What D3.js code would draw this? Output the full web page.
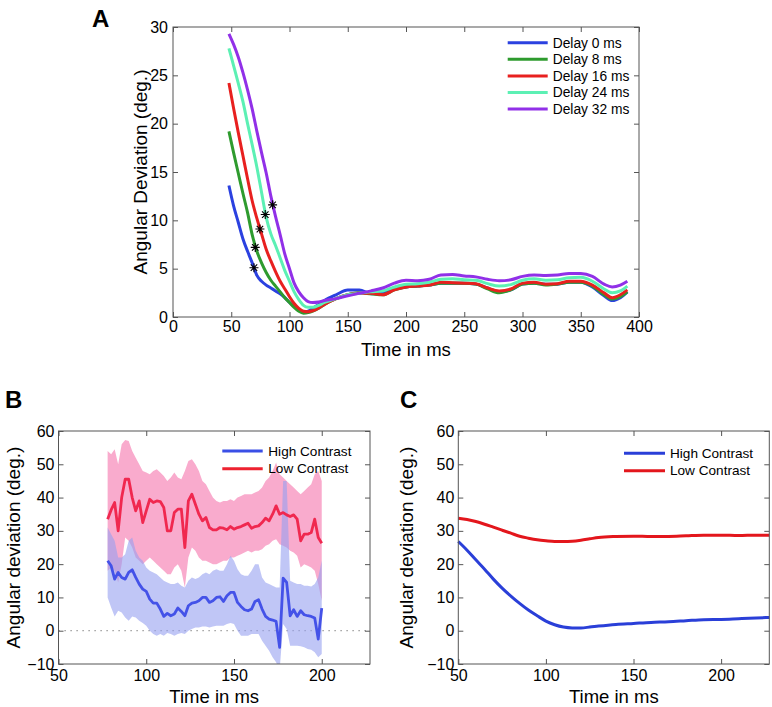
<!DOCTYPE html>
<html><head><meta charset="utf-8">
<script src="https://cdn.jsdelivr.net/npm/d3@7"></script>
<style>
body{margin:0;background:#fff}
svg{display:block}
text{font-family:"Liberation Sans",Arial,Helvetica,sans-serif;fill:#000}
</style>
</head><body>
<svg id="chart" width="772" height="707"></svg>
<script>
// ---------- Panel A data ----------
const timeA = [48,52,56,60,64,68,72,76,80,84,88,92,96,100,104,108,112,116,120,125,130,140,150,160,170,180,190,200,210,220,230,240,250,260,270,280,290,300,310,320,330,340,350,360,370,377,384,390];
const delay0  = [13.6,11.5,9.8,8.1,6.8,5.6,4.3,3.7,3.3,3.0,2.7,2.4,2.0,1.5,1.1,0.7,0.5,0.6,0.9,1.3,1.7,2.3,2.8,2.8,2.4,2.5,2.9,3.1,3.2,3.3,3.5,3.5,3.5,3.4,3.0,2.6,2.8,3.4,3.5,3.4,3.4,3.6,3.6,3.1,2.2,1.7,2.0,2.6];
const delay8  = [19.2,17.0,14.9,12.8,10.8,8.5,6.8,5.6,4.6,3.8,3.2,2.6,2.0,1.5,1.0,0.6,0.4,0.45,0.6,0.9,1.3,1.9,2.3,2.5,2.4,2.3,2.8,3.1,3.2,3.3,3.5,3.5,3.5,3.4,2.9,2.5,2.8,3.4,3.5,3.3,3.4,3.6,3.6,3.2,2.3,1.85,2.1,2.6];
const delay16 = [24.2,21.6,19.1,16.7,14.3,12.0,10.2,8.6,7.0,5.8,4.7,3.7,2.9,2.1,1.4,0.9,0.6,0.55,0.65,0.9,1.3,1.9,2.3,2.45,2.45,2.3,2.8,3.1,3.2,3.3,3.6,3.55,3.5,3.45,3.0,2.7,2.9,3.5,3.6,3.4,3.45,3.7,3.7,3.3,2.5,2.0,2.3,2.8];
const delay24 = [27.8,26.0,24.2,22.3,20.0,17.8,15.5,12.9,10.3,8.6,7.4,6.1,4.8,3.7,2.6,1.8,1.2,1.0,1.0,1.2,1.5,1.9,2.3,2.45,2.6,2.7,3.1,3.4,3.45,3.6,3.9,3.95,3.85,3.8,3.45,3.2,3.35,3.8,3.95,3.8,3.85,4.05,4.1,3.7,2.9,2.5,2.7,3.2];
const delay32 = [29.3,28.2,26.9,25.3,23.5,21.5,19.2,17.0,14.9,12.5,10.4,8.5,6.5,5.0,3.5,2.6,2.0,1.6,1.5,1.55,1.7,1.9,2.2,2.45,2.7,3.0,3.5,3.8,3.75,3.9,4.35,4.4,4.25,4.15,3.9,3.75,3.85,4.2,4.35,4.3,4.35,4.5,4.5,4.2,3.4,3.1,3.3,3.7];
const delayLabels = ["Delay 0 ms","Delay 8 ms","Delay 16 ms","Delay 24 ms","Delay 32 ms"];
const delayColors = ["#2b41e0","#2e9b2e","#e8201f","#5cf0b4","#9130e8"];
const starTimes  = [69.5,70.6,74.6,79.2,85.5];
const starValues = [5.1,7.2,9.1,10.6,11.6];
const aXTicks = [0,50,100,150,200,250,300,350,400];
const aYTicks = [0,5,10,15,20,25,30];

// ---------- Panel B data ----------
const timeB = [78,80,82,84,86,88,90,92,94,96,
               98,100,102,104,106,108,110,112,114,116,
               118,120,122,124,126,128,130,132,134,136,
               138,140,142,144,146,148,150,152,154,156,
               158,160,162,164,166,168,170,172,174,176,
               178,180,182,184,186,188,190,192,194,196,
               198,200];
const lowMean = [33.5,36.3,38.5,30,40,45.5,45.5,40,36,39,
                 32.5,36,39.5,38.5,39,38.8,37,30,30,35.5,
                 36.5,36.5,25,39,41,38,35,33,34,31,
                 30.3,30.3,31,30.8,30.3,31.3,30.5,31,31.3,31.8,
                 32.3,30.8,31.3,31.5,32.5,33.8,33,35,37.5,35,
                 35.5,34.8,34.3,34.8,33.5,27,29,29,29.5,33.5,
                 28,26.3];
const lowUpper = [54,53,54.5,50,56,57.3,57,54,52,50,
                  48,47.5,47,48,48.5,47.5,46.5,45,46,47.5,
                  46,45.5,48,51,51.5,50,48,45,44,42,
                  40,39,38.5,39,39,39.5,39,40,40.5,41,
                  41,41,41.5,42,43,45,46,48,50.5,47,
                  46,45,44,43,42,41,42,43,44,47,
                  48,45];
const lowLower = [18,19,18,14.5,20,28,27,25,22,21,
                  20,21,22,21,20,19,18,17,17,19,
                  20,18,13,22,25,24,22,21,21,20.5,
                  20,20,20.5,21,21,22,22,22.5,23,23.5,
                  24,23.5,24,24,24.5,25.5,26,27,27.5,26,
                  25.5,25,24,23.5,22.5,19,20,19.5,19,18,
                  14,9];
const highMean = [21,19.5,15.5,17.5,16,15.5,17.5,18.3,16,14,
                  12.5,11.8,9.5,8.3,8.3,6.5,4.3,5.2,4.5,5,
                  6.8,5.8,4.5,7.5,8.3,8.5,9,10,10,8.5,
                  9,10,10.2,8.8,10.5,11.5,11.5,8.5,7.3,6.3,
                  6,6.5,8.8,9.3,6.5,4.3,3.5,3.2,2.8,-5,
                  15.8,14.5,4.5,6.3,4.3,6,4.8,4.5,4.3,3.8,
                  -2.5,6.8];
const highUpper = [31,29,27,22,22,23,27,28,24,22,
                   21,19,18,17.5,17,16,15,14.5,14,14,
                   14.5,13.5,13,15,16,15.5,16,17,17.5,17,
                   18,18.5,18,18,20,22.5,21,18.5,17,16.5,
                   16.5,18,20,20,16,14.5,14,13.5,13,13,
                   45,45,15,14.5,14,14,13.5,13.5,13.3,14,
                   16,21];
const highLower = [10,7,4.3,6,5.5,4,3,4.3,4,3,
                   2.3,1.5,0,-1,-1.5,-1,-1.5,-0.7,-1,-1.5,
                   -1,-0.7,-1,0,0.5,1,1,1.3,1.3,1,
                   1.3,1.5,1.5,1.5,2,2.3,2,0,-1.5,-1.5,
                   -1.5,-1,-1,-1,-3,-4.5,-6,-8,-9.5,-12,
                   2,0.5,-4.5,-4.5,-4.5,-4.7,-5,-5.5,-5.7,-6.5,
                   -8,-7];

// ---------- Panel C data ----------
const timeC = [50,55,60,65,70,75,80,85,90,95,100,105,110,115,120,125,130,140,150,160,170,180,190,200,210,220,227.5];
const highC = [26.8,24.2,21.3,18.5,15.5,12.8,10.4,8.2,6.2,4.5,2.9,1.8,1.1,0.85,0.85,1.1,1.4,1.9,2.2,2.5,2.7,3.0,3.3,3.4,3.6,3.8,4.0];
const lowC  = [33.8,33.4,32.8,32.0,31.1,30.2,29.3,28.4,27.8,27.3,27.0,26.8,26.8,26.9,27.2,27.6,28.0,28.3,28.4,28.3,28.3,28.5,28.7,28.7,28.6,28.7,28.7];

const contrastLabels = ["High Contrast","Low Contrast"];
const bcXTicks = [50,100,150,200];
const bcYTicks = [-10,0,10,20,30,40,50,60];

// ---------- drawing ----------
const svg = d3.select("#chart");
const AX = "#555";
const fmt = d => d < 0 ? "\u2212" + Math.abs(d) : String(d);

function axes(g, x, y, xt, yt, w, h, ypad, xpad) {
  const gx = g.append("g").attr("transform", `translate(0,${h})`)
    .call(d3.axisBottom(x).tickValues(xt).tickSize(-5).tickPadding(xpad).tickFormat(fmt));
  const gy = g.append("g")
    .call(d3.axisLeft(y).tickValues(yt).tickSize(-5).tickPadding(ypad).tickFormat(fmt));
  const gt = g.append("g")
    .call(d3.axisTop(x).tickValues(xt).tickSize(-5).tickFormat(""));
  const gr = g.append("g").attr("transform", `translate(${w},0)`)
    .call(d3.axisRight(y).tickValues(yt).tickSize(-5).tickFormat(""));
  [gx, gy, gt, gr].forEach(a => {
    a.select(".domain").remove();
    a.selectAll("line").attr("stroke", AX);
    a.selectAll("text").attr("font-size", 16).attr("fill", "#000")
      .style("font-family", '"Liberation Sans",Arial,sans-serif');
  });
  g.append("rect").attr("width", w).attr("height", h)
    .attr("fill", "none").attr("stroke", AX).attr("stroke-width", 1);
}

// Panel A
{
  const L = 173, T = 27, W = 466, H = 290;
  const g = svg.append("g").attr("transform", `translate(${L},${T})`);
  const x = d3.scaleLinear().domain([0, 400]).range([0, W]);
  const y = d3.scaleLinear().domain([0, 30]).range([H, 0]);
  axes(g, x, y, aXTicks, aYTicks, W, H, 5, 4);
  const series = [delay0, delay8, delay16, delay24, delay32];
  const line = d3.line().x((d, i) => x(timeA[i])).y(d => y(d)).curve(d3.curveMonotoneX);
  series.forEach((s, k) => {
    g.append("path").datum(s).attr("d", line).attr("fill", "none")
      .attr("stroke", delayColors[k]).attr("stroke-width", 3).attr("stroke-linejoin", "round");
  });
  const r = 4.5, q = r * 0.72;
  const star = `M${-r},0L${r},0M0,${-r}L0,${r}M${-q},${-q}L${q},${q}M${-q},${q}L${q},${-q}`;
  starTimes.forEach((t, i) => {
    g.append("path").attr("d", star)
      .attr("transform", `translate(${x(t)},${y(starValues[i])})`)
      .attr("stroke", "#000").attr("stroke-width", 1.1).attr("fill", "none");
  });
  // legend
  delayLabels.forEach((lab, k) => {
    const yy = 42.7 + k * 16.6 - T;
    g.append("line").attr("x1", 507.7 - L).attr("x2", 547.7 - L).attr("y1", yy).attr("y2", yy)
      .attr("stroke", delayColors[k]).attr("stroke-width", 3);
    g.append("text").attr("x", 552.7 - L).attr("y", yy).attr("dy", "0.35em")
      .attr("font-size", 13.8).text(lab);
  });
  g.append("text").attr("x", W / 2).attr("y", H + 39).attr("text-anchor", "middle")
    .attr("font-size", 18.5).text("Time in ms");
  g.append("text").attr("transform", `translate(${147 - L},${H / 2}) rotate(-90)`)
    .attr("text-anchor", "middle").attr("font-size", 19).text("Angular Deviation (deg.)");
  svg.append("text").attr("x", 92).attr("y", 27).attr("font-size", 24)
    .attr("font-weight", "bold").text("A");
}

// Panel B
{
  const L = 58.5, T = 431, W = 311.5, H = 233;
  const g = svg.append("g").attr("transform", `translate(${L},${T})`);
  const x = d3.scaleLinear().domain([50, 227.5]).range([0, W]);
  const y = d3.scaleLinear().domain([-10, 60]).range([H, 0]);
  svg.append("clipPath").attr("id", "clipB").append("rect").attr("width", W).attr("height", H);
  const plot = g.append("g").attr("clip-path", "url(#clipB)");
  plot.append("line").attr("x1", 0).attr("x2", W).attr("y1", y(0)).attr("y2", y(0))
    .attr("stroke", "#666").attr("stroke-width", 1).attr("stroke-dasharray", "1.2,4.8");
  const area = (up, lo) => d3.area().x((d, i) => x(timeB[i])).y0((d, i) => y(lo[i])).y1((d, i) => y(up[i]));
  plot.append("path").datum(lowUpper).attr("d", area(lowUpper, lowLower))
    .attr("fill", "rgb(247,150,192)").attr("fill-opacity", 0.8);
  plot.append("path").datum(highUpper).attr("d", area(highUpper, highLower))
    .attr("fill", "rgb(150,160,240)").attr("fill-opacity", 0.6);
  const line = d3.line().x((d, i) => x(timeB[i])).y(d => y(d));
  plot.append("path").datum(lowMean).attr("d", line).attr("fill", "none")
    .attr("stroke", "#f0284f").attr("stroke-width", 2.8).attr("stroke-linejoin", "round");
  plot.append("path").datum(highMean).attr("d", line).attr("fill", "none")
    .attr("stroke", "#4452e8").attr("stroke-width", 2.8).attr("stroke-linejoin", "round");
  axes(g, x, y, bcXTicks, bcYTicks, W, H, 4, 6);
  const cols = ["#3a4fe6", "#ee2230"];
  contrastLabels.forEach((lab, k) => {
    const yy = 451 + k * 17.7 - T;
    g.append("line").attr("x1", 222.3 - L).attr("x2", 262.7 - L).attr("y1", yy).attr("y2", yy)
      .attr("stroke", cols[k]).attr("stroke-width", 3);
    g.append("text").attr("x", 268.3 - L).attr("y", yy).attr("dy", "0.35em")
      .attr("font-size", 13.6).text(lab);
  });
  g.append("text").attr("x", W / 2).attr("y", H + 39).attr("text-anchor", "middle")
    .attr("font-size", 18.5).text("Time in ms");
  g.append("text").attr("transform", `translate(${20 - L},${H / 2}) rotate(-90)`)
    .attr("text-anchor", "middle").attr("font-size", 19).text("Angular deviation (deg.)");
  svg.append("text").attr("x", 5).attr("y", 407.5).attr("font-size", 24)
    .attr("font-weight", "bold").text("B");
}

// Panel C
{
  const L = 458.3, T = 431, W = 311, H = 233;
  const g = svg.append("g").attr("transform", `translate(${L},${T})`);
  const x = d3.scaleLinear().domain([50, 227.5]).range([0, W]);
  const y = d3.scaleLinear().domain([-10, 60]).range([H, 0]);
  const line = d3.line().x((d, i) => x(timeC[i])).y(d => y(d)).curve(d3.curveMonotoneX);
  g.append("path").datum(lowC).attr("d", line).attr("fill", "none")
    .attr("stroke", "#e3161c").attr("stroke-width", 3);
  g.append("path").datum(highC).attr("d", line).attr("fill", "none")
    .attr("stroke", "#2a3fd8").attr("stroke-width", 3);
  axes(g, x, y, bcXTicks, bcYTicks, W, H, 4, 6);
  const cols = ["#2a3fd8", "#e3161c"];
  contrastLabels.forEach((lab, k) => {
    const yy = 453.3 + k * 17.4 - T;
    g.append("line").attr("x1", 624 - L).attr("x2", 665 - L).attr("y1", yy).attr("y2", yy)
      .attr("stroke", cols[k]).attr("stroke-width", 3);
    g.append("text").attr("x", 670 - L).attr("y", yy).attr("dy", "0.35em")
      .attr("font-size", 13.6).text(lab);
  });
  g.append("text").attr("x", W / 2).attr("y", H + 39).attr("text-anchor", "middle")
    .attr("font-size", 18.5).text("Time in ms");
  g.append("text").attr("transform", `translate(${413 - L},${H / 2}) rotate(-90)`)
    .attr("text-anchor", "middle").attr("font-size", 19).text("Angular deviation (deg.)");
  svg.append("text").attr("x", 400).attr("y", 408).attr("font-size", 24)
    .attr("font-weight", "bold").text("C");
}
</script>
</body></html>
